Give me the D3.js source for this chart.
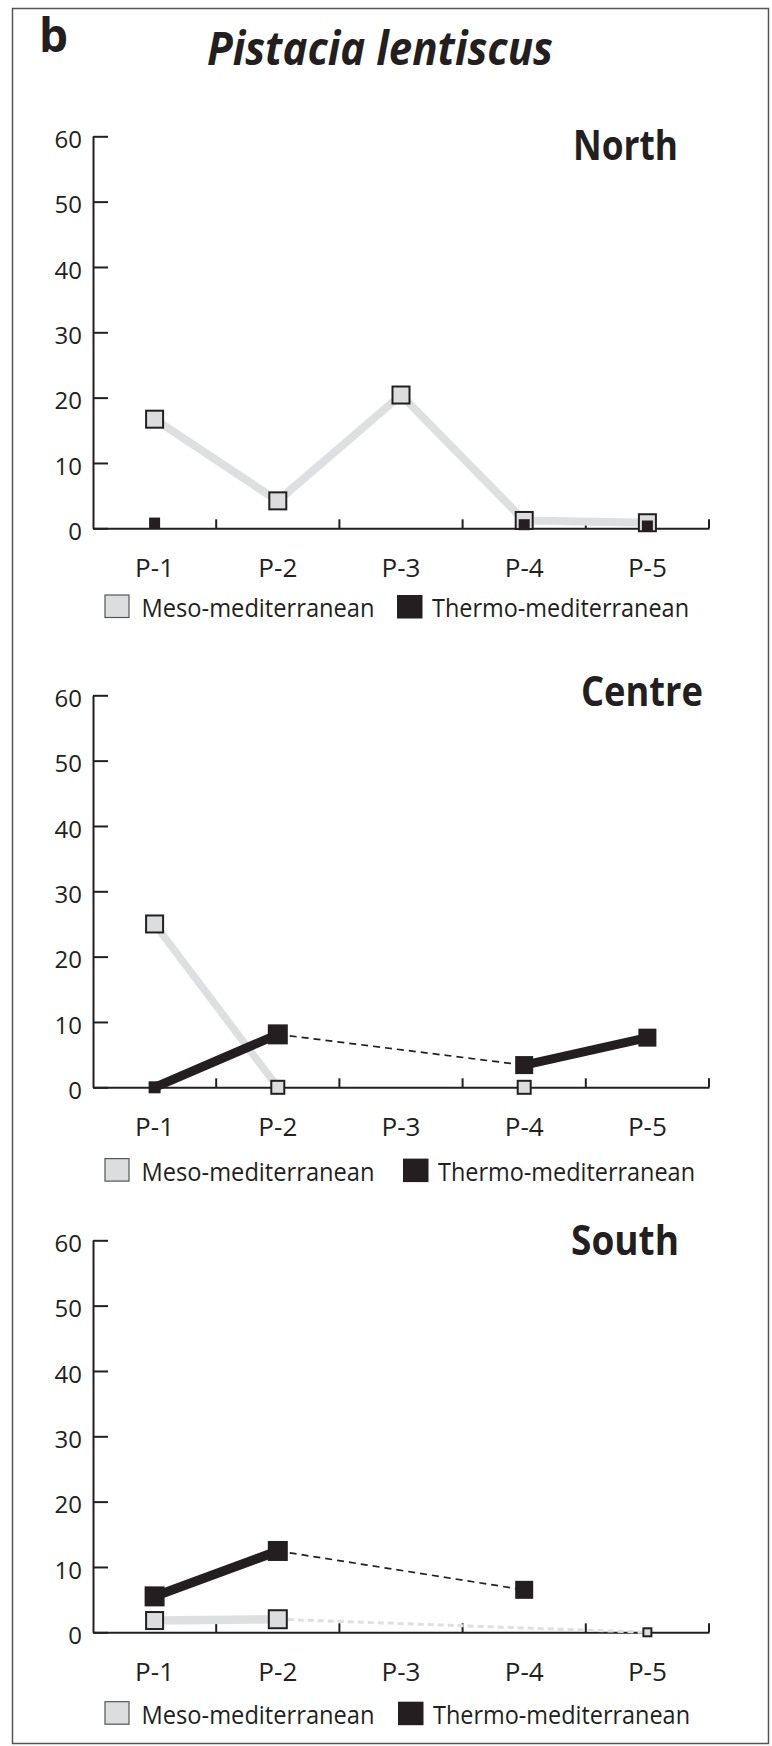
<!DOCTYPE html>
<html>
<head>
<meta charset="utf-8">
<script src="https://cdn.jsdelivr.net/npm/d3@7"></script>
<style>
  body { margin: 0; background: #fff; }
  text { font-family: "Open Sans", "Noto Sans", sans-serif; fill: #231f20; }
</style>
</head>
<body>
<script>
// categories and ticks
var categories = ["P-1", "P-2", "P-3", "P-4", "P-5"];
var yTicks = [0, 10, 20, 30, 40, 50, 60];
var regions = ["North", "Centre", "South"];
var seriesNames = ["Meso-mediterranean", "Thermo-mediterranean"];

// values (null = no point)
var mesoNorth = [16.7, 4.2, 20.4, 1.2, 0.85];
var thermoNorth = [0.8, null, null, 0.55, 0.35];
var mesoCentre = [25.0, 0, null, 0, null];
var thermoCentre = [0, 8.1, null, 3.4, 7.6];
var mesoSouth = [1.8, 2.0, null, null, 0];
var thermoSouth = [5.5, 12.45, null, 6.5, null];

// marker sizes (px) per point
var sizeMesoNorth = [19, 19, 19, 19, 19];
var sizeThermoNorth = [11, 0, 0, 11, 11];
var sizeMesoCentre = [19, 15, 0, 15, 0];
var sizeThermoCentre = [12, 20, 0, 18, 18];
var sizeMesoSouth = [19, 20, 0, 0, 10];
var sizeThermoSouth = [20, 20, 0, 18, 0];

var panelData = [
    { name: "North", meso: mesoNorth, thermo: thermoNorth, sMeso: sizeMesoNorth, sThermo: sizeThermoNorth,
      y0: 528.3, titleX: 678, titleY: 160, titleW: 105, legTop: 66.7, leg2X: 397,
      wMeso: 8, wThermo: 0, dMeso: false, dThermo: false },
    { name: "Centre", meso: mesoCentre, thermo: thermoCentre, sMeso: sizeMesoCentre, sThermo: sizeThermoCentre,
      y0: 1087.3, titleX: 703, titleY: 706, titleW: 122, legTop: 71.3, leg2X: 403,
      wMeso: 7.5, wThermo: 9, dMeso: false, dThermo: true },
    { name: "South", meso: mesoSouth, thermo: thermoSouth, sMeso: sizeMesoSouth, sThermo: sizeThermoSouth,
      y0: 1632.3, titleX: 679, titleY: 1255, titleW: 108, legTop: 69.4, leg2X: 398,
      wMeso: 8.5, wThermo: 9.5, dMeso: true, dThermo: true }
];

var ink = "#231f20",
    mesoFill = "#dcdddf";

var svg = d3.select("body").append("svg")
    .attr("width", 772)
    .attr("height", 1746);

// frame
svg.append("rect")
    .attr("x", 12.5).attr("y", 8.5)
    .attr("width", 756).attr("height", 1735)
    .attr("fill", "none")
    .attr("stroke", "#555")
    .attr("stroke-width", 1.5);

svg.append("text")
    .attr("x", 39).attr("y", 52)
    .attr("font-size", 46).attr("font-weight", 700)
    .text("b");

svg.append("text")
    .attr("x", 207).attr("y", 65)
    .attr("font-size", 46).attr("font-weight", 700).attr("font-style", "italic")
    .attr("textLength", 346).attr("lengthAdjust", "spacingAndGlyphs")
    .text("Pistacia lentiscus");

var x = d3.scaleBand()
    .domain(categories)
    .range([93, 709])
    .padding(0);
var cx = function (i) { return x(categories[i]) + x.bandwidth() / 2; };

panelData.forEach(function (p) {
    var y = d3.scaleLinear().domain([0, 60]).range([p.y0, p.y0 - 392]);
    var g = svg.append("g");

    // x axis
    var xa = g.append("g")
        .attr("transform", "translate(0," + p.y0 + ")")
        .call(d3.axisBottom(x).tickSize(0).tickSizeOuter(0));
    xa.attr("font-family", null).attr("font-size", null);
    xa.select(".domain").attr("stroke", ink).attr("stroke-width", 2);
    xa.selectAll(".tick text")
        .attr("y", 49).attr("dy", null)
        .attr("font-size", 26)
        .attr("textLength", 39).attr("lengthAdjust", "spacingAndGlyphs");
    g.selectAll("line.bt")
        .data(categories)
        .join("line")
        .attr("class", "bt")
        .attr("x1", d => x(d) + x.bandwidth())
        .attr("x2", d => x(d) + x.bandwidth())
        .attr("y1", p.y0)
        .attr("y2", p.y0 - 9)
        .attr("stroke", ink)
        .attr("stroke-width", 2);

    // y axis
    var ya = g.append("g")
        .attr("transform", "translate(93,0)")
        .call(d3.axisLeft(y).tickValues(yTicks).tickSize(-15).tickPadding(11).tickSizeOuter(0));
    ya.attr("font-family", null).attr("font-size", null);
    ya.select(".domain").attr("stroke", ink).attr("stroke-width", 2);
    ya.selectAll(".tick line").attr("stroke", ink).attr("stroke-width", 2);
    ya.selectAll(".tick text").attr("font-size", 24).attr("dy", "0.47em");

    // region title
    g.append("text")
        .attr("x", p.titleX - p.titleW).attr("y", p.titleY)
        .attr("font-size", 41).attr("font-weight", 700)
        .attr("textLength", p.titleW).attr("lengthAdjust", "spacingAndGlyphs")
        .text(p.name);

    // lines: solid between neighbours, dashed across gaps
    function drawLines(vals, color, width, dashed, dashW, dashArr) {
        var pts = [];
        vals.forEach(function (v, i) { if (v !== null) pts.push(i); });
        for (var k = 1; k < pts.length; k++) {
            var a = pts[k - 1], b = pts[k];
            var isGap = b - a > 1;
            if (isGap && !dashed) continue;
            if (!isGap && width === 0) continue;
            g.append("line")
                .attr("x1", cx(a)).attr("y1", y(vals[a]))
                .attr("x2", cx(b)).attr("y2", y(vals[b]))
                .attr("stroke", color)
                .attr("stroke-width", isGap ? dashW : width)
                .attr("stroke-dasharray", isGap ? dashArr : null);
        }
    }
    drawLines(p.meso, "#dedfe1", p.wMeso, p.dMeso, 3, "6,4");

    // meso markers
    g.selectAll("rect.meso")
        .data(p.meso.map((v, i) => ({ v: v, i: i, s: p.sMeso[i] })).filter(d => d.v !== null))
        .join("rect")
        .attr("class", "meso")
        .attr("x", d => cx(d.i) - d.s / 2 + 1)
        .attr("y", d => y(d.v) - d.s / 2 + 1)
        .attr("width", d => d.s - 2)
        .attr("height", d => d.s - 2)
        .attr("fill", mesoFill)
        .attr("stroke", ink)
        .attr("stroke-width", 2);

    drawLines(p.thermo, ink, p.wThermo, p.dThermo, 1.7, "7,5");

    g.selectAll("rect.thermo")
        .data(p.thermo.map((v, i) => ({ v: v, i: i, s: p.sThermo[i] })).filter(d => d.v !== null))
        .join("rect")
        .attr("class", "thermo")
        .attr("x", d => cx(d.i) - d.s / 2)
        .attr("y", d => y(d.v) - d.s / 2)
        .attr("width", d => d.s)
        .attr("height", d => d.s)
        .attr("fill", ink);

    // legend
    var ly = p.y0 + p.legTop;
    g.append("rect")
        .attr("x", 105).attr("y", ly)
        .attr("width", 24).attr("height", 22.5)
        .attr("fill", mesoFill)
        .attr("stroke", "#555").attr("stroke-width", 1.2);
    g.append("text")
        .attr("x", 141.5).attr("y", ly + 22)
        .attr("font-size", 26)
        .attr("textLength", 233).attr("lengthAdjust", "spacingAndGlyphs")
        .text(seriesNames[0]);
    g.append("rect")
        .attr("x", p.leg2X).attr("y", ly)
        .attr("width", 25.5).attr("height", 23.5)
        .attr("fill", ink);
    g.append("text")
        .attr("x", p.leg2X + 35).attr("y", ly + 22)
        .attr("font-size", 26)
        .attr("textLength", 257).attr("lengthAdjust", "spacingAndGlyphs")
        .text(seriesNames[1]);
});
</script>
</body>
</html>
